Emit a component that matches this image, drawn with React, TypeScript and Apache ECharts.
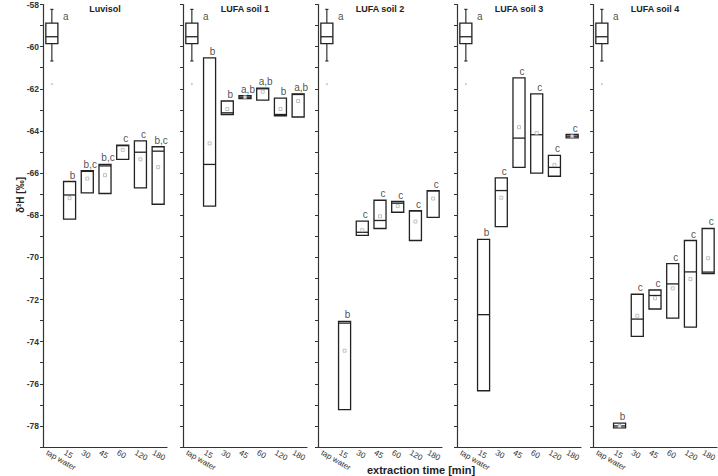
import React, { useEffect, useRef } from "react";
import * as echarts from "echarts";

const categories = ["tap water", "15", "30", "45", "60", "120", "180"];
const panelTitles = ["Luvisol", "LUFA soil 1", "LUFA soil 2", "LUFA soil 3", "LUFA soil 4"];

// tap water: [min, q1, median, q3, max]
const tapWater = [-60.68, -59.86, -59.53, -58.88, -58.23];
const tapOutlier = -61.78;

// extraction times 15..180 min
const luvisolQ1 = [-68.19, -66.94, -66.97, -65.35, -66.70, -67.48];
const luvisolMedian = [-67.04, -65.92, -65.66, -64.70, -65.01, -64.96];
const luvisolQ3 = [-66.40, -65.88, -65.59, -64.67, -64.47, -64.75];
const luvisolMean = [-67.19, -66.26, -66.10, -64.90, -65.35, -65.72];
const luvisolLetters = ["a", "b", "b,c", "b,c", "c", "c", "b,c"];

const soil1Q1 = [-67.57, -63.22, -62.47, -62.54, -63.28, -63.34];
const soil1Median = [-65.59, -63.14, -62.40, -62.00, -63.22, -62.27];
const soil1Q3 = [-60.53, -62.58, -62.33, -61.97, -62.44, -62.24];
const soil1Mean = [-64.59, -62.96, -62.40, -62.14, -62.96, -62.58];
const soil1Letters = ["a", "b", "b", "a,b", "a,b", "b", "a,b"];

const soil2Q1 = [-77.23, -68.96, -68.63, -67.86, -69.20, -68.10];
const soil2Median = [-73.12, -68.81, -68.25, -67.43, -67.80, -66.85];
const soil2Q3 = [-73.04, -68.28, -67.29, -67.35, -67.78, -66.83];
const soil2Mean = [-74.43, -68.71, -68.05, -67.56, -68.30, -67.21];
const soil2Letters = ["a", "b", "c", "c", "c", "c", "c"];

const soil3Q1 = [-76.33, -68.54, -65.73, -66.00, -66.15, -64.33];
const soil3Median = [-72.72, -66.83, -64.34, -64.18, -65.73, -64.25];
const soil3Q3 = [-69.15, -66.23, -61.48, -62.24, -65.16, -64.17];
const soil3Mean = [null, -67.17, -63.82, -64.10, -65.62, -64.25];
const soil3Letters = ["a", "b", "c", "c", "c", "c", "c"];

const soil4Q1 = [-78.09, -73.75, -72.45, -72.88, -73.31, -70.77];
const soil4Median = [-78.00, -72.93, -71.81, -71.26, -70.69, -70.70];
const soil4Q3 = [-77.87, -71.75, -71.55, -70.30, -69.20, -68.63];
const soil4Mean = [-78.0, -72.77, -71.94, -71.47, -71.03, -70.04];
const soil4Letters = ["a", "b", "c", "c", "c", "c", "c"];

const yMin = -79;
const yMax = -58;

const panels = [
  { q1: luvisolQ1, med: luvisolMedian, q3: luvisolQ3, mean: luvisolMean, letters: luvisolLetters },
  { q1: soil1Q1, med: soil1Median, q3: soil1Q3, mean: soil1Mean, letters: soil1Letters },
  { q1: soil2Q1, med: soil2Median, q3: soil2Q3, mean: soil2Mean, letters: soil2Letters },
  { q1: soil3Q1, med: soil3Median, q3: soil3Q3, mean: soil3Mean, letters: soil3Letters },
  { q1: soil4Q1, med: soil4Median, q3: soil4Q3, mean: soil4Mean, letters: soil4Letters },
];

const gridLefts = [43, 183, 318, 457, 593];
const gridWidth = 124;
const gridTop = 4.5;
const gridHeight = 442.5;
const FONT = "'Liberation Sans', Arial, sans-serif";

function renderBox(params: any, api: any) {
  const x = api.value(0);
  const vMin = api.value(1);
  const vQ1 = api.value(2);
  const vMed = api.value(3);
  const vQ3 = api.value(4);
  const vMax = api.value(5);
  const pQ1 = api.coord([x, vQ1]);
  const pQ3 = api.coord([x, vQ3]);
  const pMed = api.coord([x, vMed]);
  const pMin = api.coord([x, vMin]);
  const pMax = api.coord([x, vMax]);
  const bw = api.size([1, 0])[0] * 0.68;
  const cx = pQ1[0];
  const stroke = "#222";
  const children: any[] = [];
  if (vMax > vQ3) {
    children.push({ type: "line", shape: { x1: cx, y1: pQ3[1], x2: cx, y2: pMax[1] }, style: { stroke, lineWidth: 1.1 } });
    children.push({ type: "line", shape: { x1: cx - 1.6, y1: pMax[1], x2: cx + 1.6, y2: pMax[1] }, style: { stroke, lineWidth: 1.1 } });
  }
  if (vMin < vQ1) {
    children.push({ type: "line", shape: { x1: cx, y1: pQ1[1], x2: cx, y2: pMin[1] }, style: { stroke, lineWidth: 1.1 } });
    children.push({ type: "line", shape: { x1: cx - 1.6, y1: pMin[1], x2: cx + 1.6, y2: pMin[1] }, style: { stroke, lineWidth: 1.1 } });
  }
  children.push({
    type: "rect",
    shape: { x: cx - bw / 2, y: pQ3[1], width: bw, height: Math.max(pQ1[1] - pQ3[1], 1.5) },
    style: { fill: "#fff", stroke, lineWidth: 1.3 },
  });
  children.push({
    type: "line",
    shape: { x1: cx - bw / 2, y1: pMed[1], x2: cx + bw / 2, y2: pMed[1] },
    style: { stroke, lineWidth: 1.3 },
  });
  return { type: "group", children };
}

export default function App() {
  const ref = useRef<HTMLDivElement>(null);
  useEffect(() => {
    document.body.style.margin = "0";
    if (!ref.current) return;
    const chart = echarts.init(ref.current, undefined, { renderer: "svg" });

    const grid: any[] = [];
    const xAxis: any[] = [];
    const yAxis: any[] = [];
    const series: any[] = [];
    const graphic: any[] = [];

    panels.forEach((p, i) => {
      grid.push({ left: gridLefts[i], width: gridWidth, top: gridTop, height: gridHeight, containLabel: false, outerBoundsMode: "none" });
      xAxis.push({
        type: "category",
        gridIndex: i,
        data: categories,
        boundaryGap: true,
        axisLine: { lineStyle: { color: "#333", width: 1.2 } },
        axisTick: { alignWithLabel: true, length: 3, lineStyle: { color: "#333" } },
        axisLabel: {
          rotate: -30,
          fontSize: 8,
          color: "#333",
          fontFamily: FONT,
          margin: 8,
          interval: 0,
          padding: [0, 0, 0, -6],
          hideOverlap: false,
        },
        splitLine: { show: false },
      });
      yAxis.push({
        type: "value",
        gridIndex: i,
        min: yMin,
        max: yMax,
        interval: 1,
        axisLine: { show: true, lineStyle: { color: "#333", width: 1.2 } },
        axisTick: { show: true, length: 3, lineStyle: { color: "#333" } },
        axisLabel: {
          show: i === 0,
          formatter: (v: number) => (Math.round(v) % 2 === 0 ? String(v) : ""),
          fontSize: 8.5,
          fontWeight: "bold",
          color: "#333",
          fontFamily: FONT,
          margin: 4,
        },
        splitLine: { show: false },
      });

      const boxData: any[] = [[0, ...tapWater]];
      p.q1.forEach((q, k) => {
        boxData.push([k + 1, p.q1[k], p.q1[k], p.med[k], p.q3[k], p.q3[k]]);
      });
      series.push({
        type: "custom",
        xAxisIndex: i,
        yAxisIndex: i,
        renderItem: renderBox,
        encode: { x: 0, y: [1, 2, 3, 4, 5] },
        data: boxData,
        z: 2,
      });

      const meanData: any[] = [];
      p.mean.forEach((m, k) => {
        if (m !== null) meanData.push([k + 1, m]);
      });
      series.push({
        type: "scatter",
        xAxisIndex: i,
        yAxisIndex: i,
        symbol: "rect",
        symbolSize: 3,
        itemStyle: { color: "#fff", borderColor: "#a0a0a0", borderWidth: 0.8 },
        data: meanData,
        z: 3,
      });
      series.push({
        type: "scatter",
        xAxisIndex: i,
        yAxisIndex: i,
        symbol: "circle",
        symbolSize: 2,
        itemStyle: { color: "#bbb" },
        data: [[0, tapOutlier]],
        z: 3,
      });

      const tops = [tapWater[3], ...p.q3];
      const letterData = p.letters.map((l, k) => ({
        value: [k, tops[k]],
        name: l,
        label: { offset: k === 0 ? [14, 0] : [3, 0] },
      }));
      series.push({
        type: "scatter",
        xAxisIndex: i,
        yAxisIndex: i,
        symbolSize: 0,
        itemStyle: { color: "#222" },
        data: letterData,
        silent: true,
        label: {
          show: true,
          position: "top",
          distance: 1.5,
          formatter: (d: any) => d.name,
          fontSize: 10,
          color: "#222",
          fontFamily: FONT,
        },
        z: 4,
      });

      graphic.push({
        type: "text",
        x: gridLefts[i] + gridWidth / 2,
        y: 9,
        style: {
          text: panelTitles[i],
          font: `bold 9px ${FONT}`,
          fill: "#222",
          textAlign: "center",
          textVerticalAlign: "middle",
        },
      });
    });

    graphic.push({
      type: "text",
      x: 421,
      y: 470,
      style: {
        text: "extraction time [min]",
        font: `bold 11px ${FONT}`,
        fill: "#222",
        textAlign: "center",
        textVerticalAlign: "middle",
      },
    });
    graphic.push({
      type: "text",
      x: 20,
      y: 195,
      rotation: Math.PI / 2,
      style: {
        text: "δ²H [‰]",
        font: `bold 10px ${FONT}`,
        fill: "#222",
        textAlign: "center",
        textVerticalAlign: "middle",
      },
    });

    chart.setOption({
      animation: false,
      backgroundColor: "#fff",
      grid,
      xAxis,
      yAxis,
      series,
      graphic,
    });
    return () => chart.dispose();
  }, []);
  return <div ref={ref} style={{ width: 718, height: 476 }} />;
}
